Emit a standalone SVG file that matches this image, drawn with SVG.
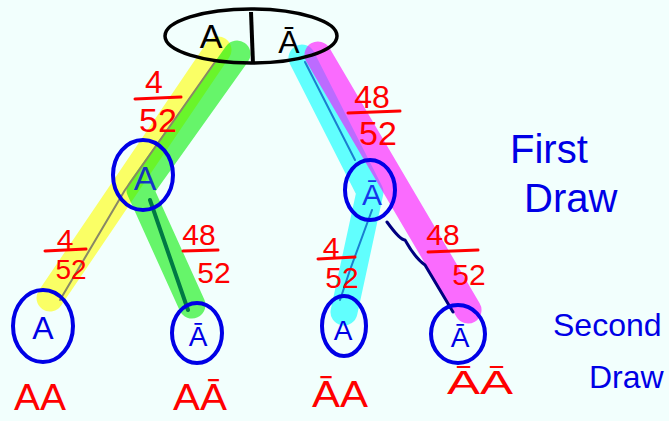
<svg xmlns="http://www.w3.org/2000/svg" width="669" height="421" viewBox="0 0 669 421">
<style>
.bg{fill:#f2fffd}
.hl{fill:none;stroke-width:27;stroke-linecap:round;stroke-linejoin:round}
.thin{fill:none;stroke-linecap:round;stroke-linejoin:round}
.node{fill:none;stroke:#0000e6;stroke-width:4}
.nt{font-family:"Liberation Sans","DejaVu Sans",sans-serif;fill:#0000e6;text-anchor:middle}
.red{font-family:"Liberation Sans","DejaVu Sans",sans-serif;fill:#ff0000;text-anchor:middle}
.bar{stroke:#ff0000;stroke-width:3;stroke-linecap:round}
.blue{font-family:"Liberation Sans","DejaVu Sans",sans-serif;fill:#0000e6}
</style>
<rect class="bg" x="0" y="0" width="669" height="421"/>
<g id="connectors">
<path class="hl" d="M218 50 L50 298" stroke="#ffff00" stroke-opacity="0.6"/>
<path class="hl" d="M237 54 L140 190 L192 305" stroke="#00ee00" stroke-opacity="0.58"/>
<path class="hl" d="M302 58 L370 192 L344 312" stroke="#00ffff" stroke-opacity="0.6"/>
<path class="hl" d="M318 55 L468 310" stroke="#ff00ff" stroke-opacity="0.58"/>
<path class="thin" d="M215 62 L125 190 L60 300" stroke="#888866" stroke-width="2"/>
<path class="thin" d="M150 200 L188 310" stroke="#007a44" stroke-width="4"/>
<path class="thin" d="M305 62 L355 160" stroke="#1a7fd0" stroke-width="2"/>
<path class="thin" d="M372 210 L350 270 L340 300" stroke="#1a7fd0" stroke-width="2"/>
<path class="thin" d="M387 222 Q400 240 405 240 Q415 258 425 265 Q440 290 453 312" stroke="#000080" stroke-width="3"/>
</g>
<g id="root">
<ellipse cx="251" cy="36" rx="86" ry="27" fill="none" stroke="#000" stroke-width="3.5"/>
<line x1="251" y1="12" x2="253" y2="64" stroke="#000" stroke-width="4"/>
<text x="211" y="48" font-family="Liberation Sans, DejaVu Sans, sans-serif" font-size="34" text-anchor="middle" fill="#000">A</text>
<text x="289" y="53" font-family="Liberation Sans, DejaVu Sans, sans-serif" font-size="32" text-anchor="middle" fill="#000">Ā</text>
</g>
<g id="n1">
<ellipse class="node" cx="143" cy="175" rx="30" ry="35"/>
<text class="nt" x="145" y="190" font-size="34" fill-opacity="0.8">A</text>
</g>
<g id="n2">
<ellipse class="node" cx="370" cy="190" rx="25" ry="30"/>
<text class="nt" x="372" y="205" font-size="30" fill-opacity="0.8">Ā</text>
</g>
<g id="n3">
<ellipse class="node" cx="43" cy="326" rx="30" ry="36"/>
<text class="nt" x="43" y="339" font-size="32">A</text>
</g>
<g id="n4">
<ellipse class="node" cx="197" cy="333" rx="25" ry="30"/>
<text class="nt" x="198" y="346" font-size="28">Ā</text>
</g>
<g id="n5">
<ellipse class="node" cx="344" cy="326" rx="22" ry="30"/>
<text class="nt" x="343" y="340" font-size="28">A</text>
</g>
<g id="n6">
<ellipse class="node" cx="458" cy="334" rx="27" ry="29"/>
<text class="nt" x="460" y="347" font-size="28">Ā</text>
</g>
<g id="labels">
<text class="red" x="154" y="93" font-size="32">4</text>
<line class="bar" x1="135" y1="99" x2="181" y2="97"/>
<text class="red" x="158" y="132" font-size="34">52</text>
<text class="red" x="372" y="108" font-size="32">48</text>
<line class="bar" x1="348" y1="113" x2="400" y2="111"/>
<text class="red" x="378" y="145" font-size="34">52</text>
<text class="red" x="65" y="250" font-size="30">4</text>
<line class="bar" x1="45" y1="251" x2="86" y2="249"/>
<text class="red" x="71" y="279" font-size="28">52</text>
<text class="red" x="199" y="245" font-size="30">48</text>
<line class="bar" x1="183" y1="251" x2="218" y2="250"/>
<text class="red" x="214" y="283" font-size="30">52</text>
<text class="red" x="331" y="258" font-size="30">4</text>
<line class="bar" x1="318" y1="259" x2="355" y2="257"/>
<text class="red" x="342" y="288" font-size="30">52</text>
<text class="red" x="443" y="245" font-size="30">48</text>
<line class="bar" x1="428" y1="252" x2="478" y2="250"/>
<text class="red" x="469" y="285" font-size="30">52</text>
<text class="red" x="40" y="410" font-size="36" textLength="52" lengthAdjust="spacingAndGlyphs">AA</text>
<text class="red" x="200" y="410" font-size="36" textLength="54" lengthAdjust="spacingAndGlyphs">AĀ</text>
<text class="red" x="340" y="407" font-size="36" textLength="56" lengthAdjust="spacingAndGlyphs">ĀA</text>
<text class="red" x="480" y="394" font-size="34" textLength="66" lengthAdjust="spacingAndGlyphs">ĀĀ</text>
</g>
<g id="titles">
<text class="blue" x="510" y="163" font-size="40">First</text>
<text class="blue" x="524" y="212" font-size="40">Draw</text>
<text class="blue" x="553" y="336" font-size="32">Second</text>
<text class="blue" x="589" y="388" font-size="32">Draw</text>
</g>
</svg>
